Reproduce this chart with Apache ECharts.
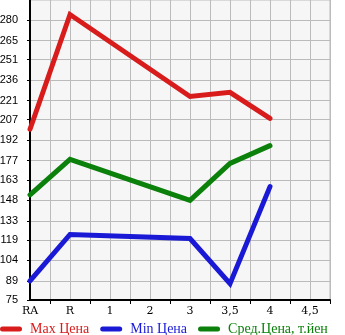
<!DOCTYPE html>
<html>
<head>
<meta charset="utf-8">
<script src="https://cdn.jsdelivr.net/npm/echarts@6/dist/echarts.min.js"></script>
<style>html,body{margin:0;padding:0;background:#fff;}#c{width:345px;height:335px;}</style>
</head>
<body>
<div id="c"></div>
<script>
const categories = ['RA', 'R', '1', '2', '3', '3,5', '4', '4,5'];
const maxPrice = [200, 284, null, null, 224, 227, 208, null];
const minPrice = [89, 123, null, null, 120, 87, 158, null];
const avgPrice = [152, 178, null, null, 148, 175, 188, null];
const yTicks = [75, 89, 104, 119, 133, 148, 163, 177, 192, 207, 221, 236, 251, 265, 280];
const seriesNames = ['Max Цена', 'Min Цена', 'Сред.Цена, т.йен'];
const colors = ['#d81c1c', '#1a1ad6', '#0b800b'];

// category axis with half steps (labels at even slots)
const xCats = [];
categories.forEach(c => { xCats.push(c); xCats.push(''); });
function spread(arr) { const out = []; arr.forEach(v => { out.push(v); out.push(null); }); return out; }

const chart = echarts.init(document.getElementById('c'), null, {renderer: 'canvas'});
const capsule = 'path://M2.5,0 H19.5 A2.5,2.5 0 0 1 19.5,5 H2.5 A2.5,2.5 0 0 1 2.5,0 Z';
chart.setOption({
  animation: false,
  grid: {left: 30, right: 15, top: 0, bottom: 35, containLabel: false, outerBoundsMode: 'none',
         show: true, backgroundColor: '#f6f6f6', borderColor: '#bbbbbb', borderWidth: 1},
  legend: {
    left: 0, top: 322, padding: 0, itemWidth: 22, itemHeight: 5, itemGap: 11, symbolKeepAspect: false,
    data: seriesNames.map((n, i) => ({name: n, icon: capsule, textStyle: {color: colors[i]}})),
    textStyle: {fontFamily: 'Liberation Serif', fontSize: 14, padding: [0, 0, 0, 3]}
  },
  xAxis: {
    type: 'category', data: xCats, boundaryGap: false,
    axisLine: {lineStyle: {color: '#000', width: 2}},
    axisTick: {interval: (i) => i % 2 === 1, length: 4, lineStyle: {color: '#000'}},
    axisLabel: {interval: 0, color: '#000', fontFamily: 'DejaVu Serif', fontSize: 11, margin: 6},
    splitLine: {show: true, interval: 0, lineStyle: {color: '#bbbbbb', width: 1}}
  },
  yAxis: {
    type: 'value', min: 75, max: 294.64,
    axisLine: {show: true, lineStyle: {color: '#000', width: 2}},
    axisTick: {show: true, length: 3, customValues: yTicks, lineStyle: {color: '#000'}},
    axisLabel: {customValues: yTicks, color: '#000', fontFamily: 'Liberation Sans', fontSize: 11, margin: 12},
    splitLine: {show: true, lineStyle: {color: '#bbbbbb', width: 1}}
  },
  series: [maxPrice, minPrice, avgPrice].map((d, i) => ({
    name: seriesNames[i], type: 'line', data: spread(d), connectNulls: true,
    showSymbol: false, symbol: 'none', color: colors[i],
    lineStyle: {width: 5, color: colors[i], cap: 'round', join: 'miter'}
  }))
});
</script>
</body>
</html>
